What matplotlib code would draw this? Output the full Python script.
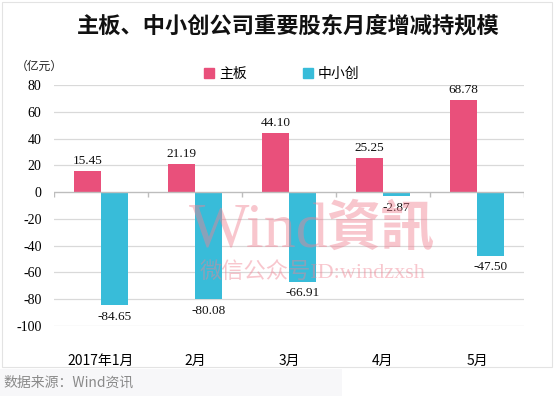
import matplotlib
matplotlib.use("Agg")
import matplotlib.pyplot as plt
from matplotlib.patches import Rectangle, Patch

plt.rcParams['font.family'] = ['Noto Sans CJK SC', 'DejaVu Sans']

months = ['2017年1月', '2月', '3月', '4月', '5月']
main_board = [15.45, 21.19, 44.10, 25.25, 68.78]
sme_gem = [-84.65, -80.08, -66.91, -2.87, -47.50]
yticks = [80, 60, 40, 20, 0, -20, -40, -60, -80, -100]

pink = '#E9507B'
cyan = '#38BCD9'
serif = ['Liberation Serif', 'DejaVu Serif']

W, H = 554, 396
fig = plt.figure(figsize=(W / 100, H / 100), dpi=100)
fig.patch.set_facecolor('white')

# white panel with thin border, grey strip for the source line
fig.add_artist(Rectangle((2 / W, 1 - 367 / H), 550 / W, 365 / H, transform=fig.transFigure,
                         facecolor='white', edgecolor='#e3e3e3', lw=0.8, zorder=0))
fig.add_artist(Rectangle((0, 0), 342 / W, 27 / H, transform=fig.transFigure,
                         facecolor='#f7f7f9', edgecolor='none', zorder=0))
fig.text(3 / W, 13 / H, '数据来源：Wind资讯', fontsize=10, color='#8a8a8a', va='center', ha='left')

fig.text(288 / W, 1 - 26 / H, '主板、中小创公司重要股东月度增减持规模', fontsize=16,
         fontweight='bold', ha='center', va='center', color='#111111')
fig.text(16 / W, 1 - 66 / H, '（亿元）', fontsize=8.5, ha='left', va='center', color='#222222')

ax = fig.add_axes([54 / W, 70 / H, 470 / W, 241 / H])
ax.set_facecolor('none')
w = 0.29
x = list(range(len(months)))
ax.bar([i - w / 2 for i in x], main_board, width=w, color=pink, zorder=3, label='主板')
ax.bar([i + w / 2 for i in x], sme_gem, width=w, color=cyan, zorder=3, label='中小创')

for i, v in zip(x, main_board):
    ax.annotate(f'{v:.2f}', (i - w / 2, v), xytext=(0, 3), textcoords='offset points',
                ha='center', va='bottom', fontsize=9.5, family=serif, color='#111111')
for i, v in zip(x, sme_gem):
    ax.annotate(f'{v:.2f}', (i + w / 2, v), xytext=(0, -4), textcoords='offset points',
                ha='center', va='top', fontsize=9.5, family=serif, color='#111111')

ax.set_xlim(-0.5, len(months) - 0.5)
ax.set_ylim(-100, 80)
ax.set_yticks(yticks)
ax.set_yticklabels([str(t) for t in yticks], family=serif, fontsize=10)
ax.set_xticks(x)
ax.set_xticklabels(months, fontsize=10)
ax.tick_params(axis='both', length=0)
ax.tick_params(axis='y', pad=9)
ax.tick_params(axis='x', pad=20)
for s in ax.spines.values():
    s.set_visible(False)
for t in yticks:
    if t != 0:
        ax.axhline(t, color='#d9d9d9', lw=0.9, zorder=1)
ax.axhline(0, color='#bdbdbd', lw=1.0, zorder=4)
ax.vlines([i - 0.5 for i in range(len(months) + 1)], -3.8, 0, color='#bdbdbd', lw=1.0, zorder=4)

# watermark
wm = '#f08292'
fig.text(189 / W, 1 - 233 / H, 'Wind', fontsize=46, family=serif, color=wm,
         alpha=0.45, ha='left', va='center', zorder=10)
fig.text(326 / W, 1 - 230 / H, '資訊', fontsize=39, fontweight='bold', color=wm,
         alpha=0.45, ha='left', va='center', zorder=10)
fig.text(313 / W, 1 - 272 / H, '微信公众号ID:windzxsh', fontsize=16,
         family=['Liberation Serif', 'Noto Sans CJK SC'],
         color=wm, alpha=0.45, ha='center', va='center', zorder=10)

fig.legend(handles=[Patch(color=pink, label='主板'), Patch(color=cyan, label='中小创')],
           loc='center', bbox_to_anchor=(282 / W, 1 - 74 / H), ncol=2, frameon=False,
           fontsize=10, handlelength=0.7, handleheight=0.7, handletextpad=0.4, columnspacing=4.0)

fig.savefig('out.png', dpi=100)
